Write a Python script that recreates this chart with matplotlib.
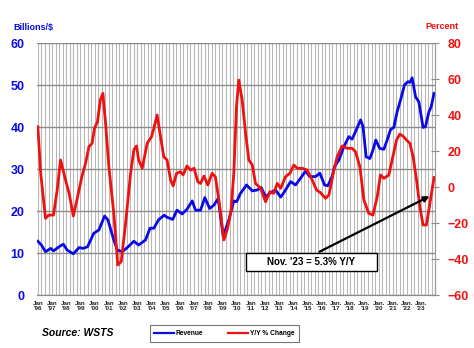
import matplotlib
matplotlib.use("Agg")
import matplotlib.pyplot as plt
import numpy as np
from matplotlib.lines import Line2D
from matplotlib.patches import Rectangle

plt.rcParams['font.family'] = ['Liberation Sans', 'DejaVu Sans']

# ---- data ----
rev_t = [1996.0, 1996.25, 1996.54, 1996.9, 1997.1, 1997.5, 1997.8, 1998.06, 1998.5, 1998.9,
         1999.2, 1999.5, 1999.94, 2000.3, 2000.7, 2000.93, 2001.35, 2001.6, 2001.94, 2002.3,
         2002.76, 2003.1, 2003.58, 2003.9, 2004.17, 2004.5, 2004.9, 2005.1, 2005.5, 2005.8,
         2006.16, 2006.5, 2006.87, 2007.1, 2007.46, 2007.76, 2008.1, 2008.4, 2008.7, 2009.05,
         2009.45, 2009.8, 2010.0, 2010.27, 2010.7, 2011.1, 2011.45, 2011.73, 2012.04, 2012.4,
         2012.74, 2013.1, 2013.37, 2013.8, 2014.15, 2014.5, 2014.85, 2015.15, 2015.56, 2015.86,
         2016.19, 2016.42, 2016.72, 2016.9, 2017.2, 2017.55, 2017.9, 2018.13, 2018.37, 2018.73,
         2018.9, 2019.12, 2019.38, 2019.6, 2019.8, 2020.08, 2020.37, 2020.6, 2020.84, 2021.07,
         2021.3, 2021.54, 2021.82, 2022.06, 2022.2, 2022.36, 2022.6, 2022.83, 2023.13, 2023.3,
         2023.54, 2023.7, 2023.9]
rev_v = [12.8, 11.9, 10.3, 11.1, 10.5, 11.5, 12.1, 10.7, 9.8, 11.3,
         11.1, 11.5, 14.7, 15.5, 18.8, 17.9, 13.1, 10.7, 10.3, 11.3,
         12.8, 11.9, 13.1, 15.9, 15.9, 17.9, 19.0, 18.5, 18.0, 20.2,
         19.3, 20.4, 22.4, 20.2, 20.2, 23.2, 20.6, 21.4, 23.0, 14.0,
         17.9, 22.4, 22.2, 24.2, 26.2, 24.8, 25.0, 25.6, 23.4, 24.4,
         25.0, 23.3, 24.6, 27.0, 26.2, 27.8, 29.5, 28.2, 28.2, 29.0,
         26.2, 26.0, 28.2, 30.6, 32.1, 35.3, 37.7, 37.1, 38.9, 41.7,
         40.1, 32.9, 32.5, 34.5, 36.9, 34.9, 34.7, 36.9, 39.4, 39.9,
         43.6, 46.4, 50.0, 50.8, 50.6, 51.7, 47.2, 46.0, 39.9, 40.1,
         43.6, 44.8, 48.0]

yoy_t = [1996.0, 1996.2, 1996.54, 1996.77, 1997.1, 1997.36, 1997.6, 1997.95, 1998.2, 1998.5,
         1998.8, 1999.1, 1999.36, 1999.6, 1999.82, 1999.99, 2000.2, 2000.4, 2000.58, 2000.77,
         2001.0, 2001.35, 2001.63, 2001.87, 2002.18, 2002.53, 2002.76, 2002.95, 2003.1, 2003.35,
         2003.7, 2004.0, 2004.17, 2004.4, 2004.64, 2004.87, 2005.1, 2005.35, 2005.53, 2005.77,
         2006.05, 2006.23, 2006.5, 2006.76, 2007.0, 2007.27, 2007.46, 2007.7, 2007.97, 2008.27,
         2008.5, 2008.75, 2009.1, 2009.33, 2009.6, 2009.8, 2009.99, 2010.15, 2010.39, 2010.63,
         2010.86, 2011.1, 2011.33, 2011.68, 2012.04, 2012.34, 2012.62, 2012.86, 2013.1, 2013.44,
         2013.75, 2014.03, 2014.26, 2014.61, 2014.97, 2015.32, 2015.63, 2015.9, 2016.26, 2016.5,
         2016.84, 2017.08, 2017.43, 2017.78, 2018.13, 2018.37, 2018.68, 2018.96, 2019.3, 2019.6,
         2019.9, 2020.13, 2020.37, 2020.72, 2020.95, 2021.26, 2021.5, 2021.77, 2021.96, 2022.2,
         2022.43, 2022.67, 2022.9, 2023.13, 2023.37, 2023.65, 2023.9]
yoy_v = [33.5, 7.6, -17.4, -15.6, -15.6, -1.7, 15.0, 3.9, -3.5, -16.1,
         -5.4, 5.7, 13.2, 22.4, 24.3, 32.6, 36.3, 48.3, 52.0, 35.4,
         11.3, -14.6, -43.3, -41.5, -20.2, 7.6, 20.6, 22.8, 15.0, 10.4,
         24.3, 27.9, 32.6, 40.0, 27.9, 16.8, 15.0, 3.9, 0.6, 7.6,
         8.5, 6.7, 11.7, 9.4, 10.4, 2.9, 2.0, 6.1, 1.1, 7.6,
         5.7, -7.2, -29.4, -23.9, -13.7, 7.6, 44.6, 59.4, 48.3, 29.8,
         15.0, 12.2, 2.0, -0.7, -8.2, -2.6, -3.5, 2.0, -0.7, 5.7,
         7.6, 12.2, 10.4, 10.4, 9.4, 3.9, -1.7, -3.1, -6.3, -4.4,
         9.0, 16.8, 22.8, 21.5, 21.5, 19.6, 11.3, -7.2, -14.6, -15.6,
         -5.4, 6.7, 4.8, 6.7, 15.0, 26.1, 29.4, 27.9, 26.1, 24.3,
         16.8, 3.9, -10.9, -21.1, -21.1, -7.2, 5.3]

years = list(range(1996, 2024))
year_labels = [("Jan\n'%02d" if y < 2015 else "Jan.\n'%02d") % (y % 100) for y in years]
left_ticks = [0, 10, 20, 30, 40, 50, 60]
right_ticks = [-60, -40, -20, 0, 20, 40, 60, 80]
note_text = "Nov. '23 = 5.3% Y/Y"

BLUE = "#0a0ae6"
RED = "#f01010"

fig = plt.figure(figsize=(4.74, 3.48), dpi=100)
fig.patch.set_facecolor("white")
ax = fig.add_axes([37/474, 1-295/348, (435-37)/474, (295-43)/348])
ax2 = ax.twinx()

ax.set_xlim(1995.94, 2023.97)
ax.set_ylim(0, 60)
ax2.set_ylim(-60, 80)

# grid
ax.set_xticks(years)
ax.set_xticks(np.arange(1996, 2024, 0.25), minor=True)
ax.grid(True, axis="x", which="both", color="#b8b8b8", lw=0.8)
ax.set_yticks(left_ticks)
ax.grid(True, axis="y", which="major", color="#8c8c8c", lw=1.0)
ax.set_axisbelow(True)

ax.plot(rev_t, rev_v, color=BLUE, lw=2.0, solid_joinstyle="round", zorder=3)
ax2.plot(yoy_t, yoy_v, color=RED, lw=2.0, solid_joinstyle="round", zorder=3)

# tick labels
ax.set_xticklabels(year_labels, fontsize=4.5, fontweight="bold", color="#222222", linespacing=1.1)
ax.tick_params(axis="x", which="both", length=0, pad=4)
ax.tick_params(axis="y", length=0, pad=9, labelsize=9, labelcolor=BLUE)
for lab in ax.get_yticklabels():
    lab.set_fontweight("bold")
ax2.set_yticks(right_ticks)
ax2.tick_params(axis="y", direction="inout", length=6, width=0.8, color="#8c8c8c",
                pad=6, labelsize=9, labelcolor=RED)
for lab in ax2.get_yticklabels():
    lab.set_fontweight("bold")

for a in (ax, ax2):
    for s in ("top", "left"):
        a.spines[s].set_visible(False)
    a.spines["right"].set_color("#9a9a9a")
    a.spines["bottom"].set_color("#8c8c8c")

# axis titles
fig.text(0.070, 0.922, "Billions/$", color=BLUE, fontsize=6.5, fontweight="bold", ha="center", va="center")
fig.text(0.932, 0.925, "Percent", color=RED, fontsize=6.5, fontweight="bold", ha="center", va="center")

# source
fig.text(42/474, 1-333/348, "Source: WSTS", fontsize=7.5, fontweight="bold", style="italic", ha="left", va="center")

# annotation box + arrow
fig.patches.append(Rectangle((246/474, 1-271/348), 131/474, 18/348, transform=fig.transFigure,
                             fc="white", ec="black", lw=1.0, zorder=10))
fig.text(311.5/474, 1-262/348, note_text, fontsize=7, fontweight="bold", ha="center", va="center", zorder=11)
ax2.annotate("", xy=(432/474, 1-195/348), xycoords="figure fraction",
             xytext=(317/474, 1-253/348), textcoords="figure fraction",
             arrowprops=dict(arrowstyle="-|>", color="black", lw=1.6, mutation_scale=8), zorder=9)

# legend
handles = [Line2D([], [], color=BLUE, lw=1.6), Line2D([], [], color=RED, lw=1.6)]
leg = fig.legend(handles, ["Revenue", "Y/Y % Change"], loc="center", bbox_to_anchor=(0.473, 0.042),
                 ncol=2, fontsize=4.8, frameon=True, fancybox=False, edgecolor="#555555",
                 handlelength=3.0, handletextpad=0.2, columnspacing=3.8, borderpad=0.7)
leg.get_frame().set_linewidth(0.8)
for t in leg.get_texts():
    t.set_fontweight("bold")

fig.savefig("out.png", dpi=100, facecolor="white")
